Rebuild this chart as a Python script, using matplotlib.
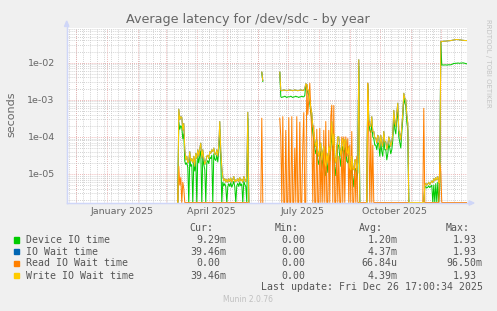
import matplotlib
matplotlib.use("Agg")
import matplotlib.dates as mdates
import matplotlib.pyplot as plt
import numpy as np
from matplotlib.lines import Line2D
from matplotlib.patches import Polygon, Rectangle
from matplotlib.ticker import FixedLocator, FuncFormatter, NullFormatter

nan = np.nan
W, H = 497, 311

# x positions: days after 2025-01-01, one value per day where the graph has data
day = (
    list(range(71, 143))      # mid March .. late May
    + [143]                   # gap
    + [154, 155, 156]         # short June blip
    + [157]                   # gap
    + list(range(173, 254))   # late June .. early September
    + [254, 259]              # gap (read stays at zero)
    + list(range(260, 303))   # September .. October
    + [309, 316]              # zeros
    + list(range(317, 334))   # November
    + list(range(334, 361))   # December
)

# seconds; 0 means the line sits on the bottom edge
write_wait = (
    [0, 5.6e-4, 2.9e-4, 3.5e-4, 3.4e-4, 1.5e-4, 2.3e-4, 4.5e-5, 2.4e-5, 3.0e-5,
     2.0e-5, 2.2e-5, 4.0e-5, 2.2e-5, 2.6e-5, 2.0e-5, 3.0e-5, 1.6e-5, 3.6e-5, 2.6e-5,
     4.5e-5, 3.0e-5, 4.9e-5, 6.8e-5, 2.7e-5, 4.5e-5, 2.6e-5, 1.8e-5, 2.2e-5, 3.0e-5,
     3.2e-5, 2.6e-5, 4.0e-5, 3.6e-5, 4.5e-5, 4.0e-5, 5.0e-5, 3.5e-5, 3.3e-5, 4.5e-5,
     3.0e-5, 6.0e-5, 2.6e-4, 4.0e-5, 1.5e-5, 8.5e-6, 6.5e-6, 7.5e-6, 6.0e-6, 7.2e-6,
     6.0e-6, 7.5e-6, 6.2e-6, 7.8e-6, 6.0e-6, 7.0e-6, 8.5e-6, 6.0e-6, 7.0e-6, 6.4e-6,
     7.5e-6, 6.2e-6, 8.0e-6, 6.5e-6, 7.2e-6, 6.0e-6, 8.5e-6, 7.0e-6, 6.2e-6, 8.5e-6,
     4.6e-4, 0]
    + [nan]
    + [nan, 5.6e-3, 3.3e-3]
    + [nan]
    + [5.6e-3,
       1.8e-3, 1.75e-3, 1.8e-3, 1.85e-3, 1.8e-3, 1.8e-3, 1.75e-3, 1.8e-3, 1.8e-3, 1.85e-3,
       1.8e-3, 1.8e-3, 1.75e-3, 1.8e-3, 1.85e-3, 1.8e-3, 1.8e-3, 1.75e-3, 1.8e-3, 1.8e-3,
       1.85e-3, 1.8e-3, 1.8e-3, 1.8e-3,
       2.0e-3, 2.7e-3, 2.6e-3, 1.8e-3,
       1.8e-3, 1.0e-3, 6.0e-4, 4.4e-4, 2.0e-4, 1.3e-4, 8.0e-5, 5.5e-5, 8.3e-5, 4.0e-5,
       3.0e-5, 5.0e-5, 6.8e-5, 2.4e-5, 4.0e-5, 5.5e-5, 2.0e-5, 1.6e-5, 3.6e-5, 2.0e-5,
       5.5e-5, 4.0e-5, 8.3e-5, 2.6e-4, 6.0e-5, 1.2e-4, 3.0e-5, 2.0e-5, 4.0e-5, 1.0e-4,
       1.0e-4, 5.0e-5, 3.0e-5, 6.8e-5, 9.0e-5, 4.5e-5, 8.3e-5, 8.3e-5, 4.0e-5, 3.5e-5,
       5.5e-5, 1.5e-5, 1.3e-5, 3.0e-5, 1.5e-5, 1.3e-5, 2.4e-5, 2.4e-5, 1.3e-5, 2.0e-5,
       1.2e-2, 0]
    + [nan, nan]
    + [0, 2.8e-3, 2.9e-4, 2.0e-4, 1.9e-4, 3.5e-4, 1.4e-4, 1.4e-4, 9.3e-5, 9.3e-5,
       6.8e-5, 1.1e-4, 1.0e-4, 5.0e-5, 1.1e-4, 6.8e-5, 5.5e-5, 1.4e-4, 7.4e-5, 7.4e-5,
       4.5e-5, 6.0e-5, 1.0e-4, 8.0e-5, 5.5e-5, 7.4e-5, 1.2e-4, 5.2e-4, 2.5e-4, 1.9e-4,
       4.5e-4, 8.1e-4, 1.5e-4, 1.2e-4, 8.3e-5, 2.0e-4, 4.4e-4, 1.5e-3, 1.1e-3, 1.0e-3,
       4.0e-4, 2.3e-4, 0]
    + [0, 0]
    + [0, 5.0e-6, 5.6e-6, 5.0e-6, 5.4e-6, 6.0e-6, 5.2e-6, 5.8e-6, 6.5e-6, 5.8e-6,
       7.5e-6, 6.5e-6, 8.0e-6, 7.0e-6, 8.5e-6, 5.6e-6, 6.0e-6]
    + [3.7e-2, 3.7e-2, 3.75e-2, 3.8e-2, 3.8e-2, 3.8e-2, 3.85e-2, 3.85e-2, 3.9e-2, 3.9e-2,
       3.95e-2, 4.0e-2, 4.05e-2, 4.1e-2, 4.15e-2, 4.2e-2, 4.2e-2, 4.2e-2, 4.15e-2, 4.1e-2,
       4.1e-2, 4.05e-2, 4.0e-2, 4.0e-2, 3.95e-2, 3.95e-2, 3.946e-2]
)

device_io = (
    [0, 2.5e-4, 1.6e-4, 2.0e-4, 1.8e-4, 9.0e-5, 1.2e-4, 2.2e-5, 1.8e-5, 2.0e-5,
     1.5e-5, 0, 2.6e-5, 1.6e-5, 1.8e-5, 0, 2.0e-5, 1.2e-5, 2.4e-5, 0,
     3.0e-5, 2.0e-5, 3.2e-5, 4.2e-5, 0, 3.0e-5, 1.8e-5, 1.3e-5, 0, 2.0e-5,
     2.3e-5, 1.9e-5, 2.8e-5, 2.6e-5, 3.2e-5, 0, 3.5e-5, 2.5e-5, 2.3e-5, 3.2e-5,
     2.1e-5, 4.2e-5, 1.6e-4, 2.6e-5, 0, 6.0e-6, 4.8e-6, 5.5e-6, 4.5e-6, 0,
     4.5e-6, 5.5e-6, 4.6e-6, 5.8e-6, 4.4e-6, 5.2e-6, 6.3e-6, 4.5e-6, 0, 4.8e-6,
     5.6e-6, 4.6e-6, 6.0e-6, 4.8e-6, 5.4e-6, 0, 6.3e-6, 5.2e-6, 4.6e-6, 0,
     3.2e-4, 0]
    + [nan]
    + [nan, 5.4e-3, 3.1e-3]
    + [nan]
    + [5.4e-3,
       1.2e-3, 1.15e-3, 1.2e-3, 1.2e-3, 1.25e-3, 1.2e-3, 1.15e-3, 1.2e-3, 1.2e-3, 1.2e-3,
       1.25e-3, 1.2e-3, 1.15e-3, 1.2e-3, 1.2e-3, 1.25e-3, 1.2e-3, 1.2e-3, 1.15e-3, 1.2e-3,
       1.2e-3, 1.25e-3, 1.2e-3, 1.2e-3,
       1.3e-3, 2.5e-3, 2.4e-3, 1.5e-3,
       1.4e-3, 8.0e-4, 4.5e-4, 3.0e-4, 1.3e-4, 8.0e-5, 5.0e-5, 3.5e-5, 5.0e-5, 2.4e-5,
       1.8e-5, 3.0e-5, 4.0e-5, 1.4e-5, 2.4e-5, 3.0e-5, 1.2e-5, 9.0e-6, 2.0e-5, 1.1e-5,
       3.2e-5, 2.2e-5, 5.0e-5, 1.6e-4, 3.5e-5, 7.0e-5, 1.6e-5, 9.0e-6, 2.2e-5, 6.0e-5,
       6.0e-5, 2.8e-5, 1.6e-5, 4.0e-5, 5.5e-5, 2.5e-5, 5.0e-5, 5.0e-5, 2.2e-5, 2.0e-5,
       3.2e-5, 8.0e-6, 7.0e-6, 1.7e-5, 8.0e-6, 4.5e-6, 1.3e-5, 1.4e-5, 7.0e-6, 1.1e-5,
       8.0e-3, 0]
    + [nan, nan]
    + [0, 2.6e-3, 2.6e-4, 1.5e-4, 1.3e-4, 2.2e-4, 1.0e-4, 9.0e-5, 6.0e-5, 6.0e-5,
       4.5e-5, 7.0e-5, 6.5e-5, 3.0e-5, 7.0e-5, 4.0e-5, 3.0e-5, 9.0e-5, 4.5e-5, 4.5e-5,
       2.4e-5, 3.5e-5, 6.5e-5, 5.0e-5, 3.5e-5, 4.5e-5, 8.0e-5, 3.5e-4, 1.6e-4, 1.2e-4,
       3.0e-4, 5.5e-4, 1.0e-4, 7.0e-5, 5.0e-5, 1.3e-4, 3.0e-4, 1.2e-3, 8.0e-4, 7.0e-4,
       2.5e-4, 1.5e-4, 0]
    + [0, 0]
    + [0, 4.5e-6, 4.5e-6, 4.2e-6, 4.4e-6, 4.8e-6, 4.3e-6, 4.6e-6, 5.0e-6, 0,
       5.0e-6, 0, 5.5e-6, 0, 6.0e-6, 0, 4.5e-6]
    + [3.6e-2, 8.6e-3, 8.7e-3, 8.6e-3, 8.7e-3, 8.7e-3, 8.6e-3, 8.7e-3, 8.8e-3, 8.7e-3,
       8.8e-3, 8.9e-3, 9.3e-3, 9.6e-3, 9.5e-3, 9.7e-3, 9.6e-3, 9.8e-3, 9.7e-3, 9.6e-3,
       9.8e-3, 9.7e-3, 9.9e-3, 9.8e-3, 9.6e-3, 9.5e-3, 9.29e-3]
)

read_wait = (
    [0, 1.6e-5, 5.0e-6, 8.0e-6, 0, 6.0e-6, 4.0e-6] + [0] * 65
    + [nan]
    + [0, 3.2e-4, 0]
    + [nan]
    + [3.2e-4, 1.0e-4, 0, 3.5e-4, 0, 0, 1.5e-4, 0, 0, 3.3e-4,
       0, 0, 3.5e-4, 0, 0, 5.0e-5, 0, 3.5e-4, 0, 0,
       2.5e-4, 0, 0, 6.0e-5, 4.5e-4, 0, 0, 2.6e-3, 4.0e-4, 1.0e-3,
       2.8e-3, 5.0e-4, 1.2e-4, 0, 2.0e-4, 0, 0, 1.6e-4, 0, 0,
       1.7e-4, 0, 3.0e-5, 0, 1.5e-4, 0, 2.6e-4, 0, 0, 1.5e-4,
       0, 3.5e-4, 7.2e-4, 0, 7.0e-4, 0, 0, 6.0e-5, 0, 3.0e-5,
       0, 0, 1.0e-4, 0, 1.0e-4, 0, 1.0e-4, 3.0e-5, 9.0e-5, 0,
       6.0e-5, 0, 1.4e-4, 0, 0, 2.0e-5, 0, 3.0e-5, 0, 0,
       0]
    + [0, 0]
    + [0, 2.8e-3, 1.0e-4, 0, 1.5e-4, 0, 6.0e-5] + [0] * 36
    + [0, 0]
    + [5.9e-4] + [0] * 15 + [2.0e-5]
    + [1.1e-5] + [0] * 26
)

# the blue IO wait line runs underneath the yellow write line all year
io_wait = list(write_wait)

series = [
    ("Device IO time", device_io, "#00CC00"),
    ("IO Wait time", io_wait, "#0066B3"),
    ("Read IO Wait time", read_wait, "#FF8000"),
    ("Write IO Wait time", write_wait, "#FFCC00"),
]
cur_vals = ["9.29m", "39.46m", "0.00", "39.46m"]
min_vals = ["0.00", "0.00", "0.00", "0.00"]
avg_vals = ["1.20m", "4.37m", "66.84u", "4.39m"]
max_vals = ["1.93", "1.93", "96.50m", "1.93"]

TEXT = "#666666"
AXIS = "#CFD6F8"
Y_BOTTOM, Y_TOP = 1.65e-6, 0.086


def fx(px):
    return px / W


def fy(py):
    return 1 - py / H


fig = plt.figure(figsize=(W / 100, H / 100), dpi=100, facecolor="#F0F0F0")
ax = fig.add_axes([fx(66.5), fy(203), 400 / W, 175 / H])
ax.set_facecolor("white")

dates = np.datetime64("2025-01-01") + np.array(day, dtype="timedelta64[D]")
for name, vals, color in series:
    v = np.array(vals, dtype=float)
    v = np.where(v <= 0, Y_BOTTOM * 1.03, v)
    ax.plot(dates, v, color=color, lw=0.72, zorder=3)

ax.set_yscale("log")
ax.set_ylim(Y_BOTTOM, Y_TOP)
x0 = np.datetime64("2024-11-21T17:00")
x1 = np.datetime64("2025-12-26T17:00")
ax.set_xlim(x0, x1)

# horizontal grid
ax.yaxis.set_major_locator(FixedLocator([1e-5, 1e-4, 1e-3, 1e-2]))
ax.yaxis.set_major_formatter(FuncFormatter(lambda v, _: f"{v:.0e}"))
ax.yaxis.set_minor_locator(FixedLocator([m * 10.0 ** k for k in range(-6, -1) for m in range(2, 10)]))
ax.yaxis.set_minor_formatter(NullFormatter())
ax.grid(which="minor", axis="y", color="#c4c4c4", lw=0.6, ls=(0, (1, 1.5)), zorder=1)
ax.grid(which="major", axis="y", color="#e8a0a0", lw=0.6, ls=(0, (1, 1.5)), zorder=1.5)

# vertical grid: weeks (grey) and months (red)
d0 = mdates.num2date(mdates.date2num(x0))
d1 = mdates.num2date(mdates.date2num(x1))
weeks = mdates.WeekdayLocator(byweekday=mdates.SU).tick_values(d0, d1)
months = mdates.MonthLocator().tick_values(d0, d1)
for t in weeks:
    ax.axvline(t, color="#c4c4c4", lw=0.6, ls=(0, (1, 1.5)), zorder=1)
for t in months:
    ax.axvline(t, color="#e8a0a0", lw=0.6, ls=(0, (1, 1.5)), zorder=1.5)

# quarter labels centred mid-month
ax.xaxis.set_major_locator(mdates.MonthLocator(bymonth=[1, 4, 7, 10], bymonthday=16))
ax.xaxis.set_major_formatter(mdates.DateFormatter("%B %Y"))
ax.xaxis.set_minor_locator(FixedLocator([]))
ax.tick_params(axis="x", length=0, pad=3, labelsize=6.8, labelcolor=TEXT)
ax.tick_params(axis="y", which="both", length=0, pad=8.5, labelsize=6.8, labelcolor=TEXT)

for side in ("top", "right"):
    ax.spines[side].set_visible(False)
for side in ("left", "bottom"):
    ax.spines[side].set_color(AXIS)
    ax.spines[side].set_linewidth(0.9)
    ax.spines[side].set_zorder(4)

# axis arrows
fig.add_artist(Line2D([fx(66.7), fx(66.7)], [fy(203), fy(25)], color=AXIS, lw=0.9))
fig.add_artist(Polygon([(fx(64.5), fy(26.5)), (fx(68.9), fy(26.5)), (fx(66.7), fy(21))],
                       closed=True, color=AXIS, transform=fig.transFigure))
fig.add_artist(Line2D([fx(66.5), fx(470)], [fy(203), fy(203)], color=AXIS, lw=0.9))
fig.add_artist(Polygon([(fx(469), fy(200.8)), (fx(469), fy(205.2)), (fx(474), fy(203))],
                       closed=True, color=AXIS, transform=fig.transFigure))

fig.text(fx(248), fy(19.3), "Average latency for /dev/sdc - by year",
         ha="center", va="center", fontsize=9.2, color=TEXT)
fig.text(fx(11), fy(114.5), "seconds", rotation=90, ha="center", va="center",
         fontsize=8, color=TEXT)
fig.text(fx(488), fy(63), "RRDTOOL / TOBI OETIKER", rotation=270, ha="center",
         va="center", fontsize=5, color="#c4c4c4")

# legend table
mono = dict(family="DejaVu Sans Mono", fontsize=7.1, color="#555555", va="center")
cw = 5.94
for label, right in (("Cur:", 213.3), ("Min:", 298.3), ("Avg:", 383.3), ("Max:", 470)):
    fig.text(fx(right), fy(228.3), label, ha="right", **mono)

row_y = [240, 251.7, 263.3, 275.7]
columns = [(cur_vals, 226), (min_vals, 305 + cw), (avg_vals, 397.7), (max_vals, 482.7)]
for i, (name, vals, color) in enumerate(series):
    y = row_y[i]
    fig.add_artist(Rectangle((fx(14), fy(y + 2.6)), 5.2 / W, 5.2 / H, color=color,
                             transform=fig.transFigure))
    fig.text(fx(26), fy(y), name, ha="left", **mono)
    for col_vals, right in columns:
        s = col_vals[i]
        r = right if s[-1].isalpha() else right - cw
        fig.text(fx(r), fy(y), s, ha="right", **mono)

fig.text(fx(482.7), fy(287.3), "Last update: Fri Dec 26 17:00:34 2025", ha="right", **mono)
fig.text(fx(248), fy(300), "Munin 2.0.76", ha="center", va="center", fontsize=5.5,
         color="#c0c0c0")

fig.savefig("out.png", dpi=100, facecolor=fig.get_facecolor())
